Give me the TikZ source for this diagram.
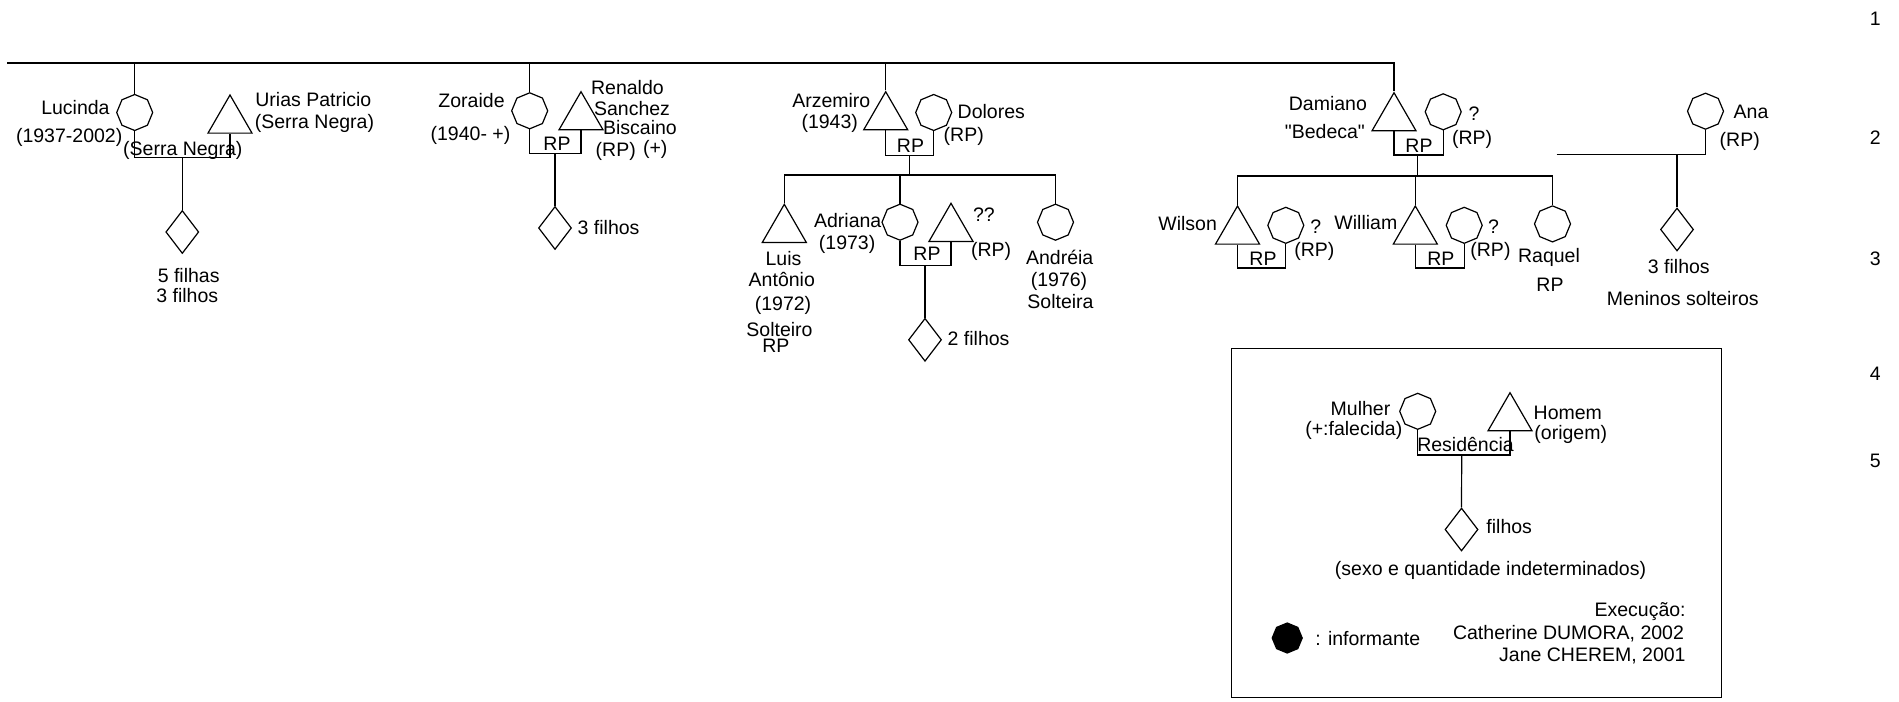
\documentclass[tikz,border=0pt]{standalone}
\usepackage{fontspec}
\setmainfont{Liberation Sans}
\newfontfamily\plainqt{Liberation Sans}[Ligatures=TeXOff]
\usetikzlibrary{shapes.geometric}

\begin{document}
\begin{tikzpicture}[
  x=0.5pt, y=-0.5pt,
  font=\fontsize{9.75}{11.7}\selectfont,
  fem/.style  = {draw, line width=0.6pt, regular polygon, regular polygon sides=8,
                 shape border rotate=22.5, minimum size=18pt, inner sep=0pt},
  masc/.style = {draw, line width=0.6pt, regular polygon, regular polygon sides=3,
                 minimum size=25.4pt, inner sep=0pt},
  kids/.style = {draw, line width=0.6pt, diamond, minimum width=16.5pt, minimum height=21.5pt,
                 inner sep=0pt},
  lbl/.style  = {inner sep=0pt, text height=6.95pt, text depth=0pt},
  ln/.style   = {draw, line width=0.6pt},
]
\useasboundingbox (0,0) rectangle (1899,701);

% --- the line of siblings -------------------------------------------------------------------------
\coordinate (tl) at (7,63);

% --- Lucinda and Urias ----------------------------------------------------------------------------
\node[fem]  (luc) at (134.7,112.5) {};
\node[masc] (uri) at (230,120.4) {};
\coordinate (lucbar) at (182.3,157.3);
\draw[ln] (luc.south) |- (lucbar) -| (uri.south);
\node[kids] (lucf) at (182.3,232) {};
\draw[ln] (lucbar) -- (lucf.north);
\node[lbl, anchor=east] (lucn) at (110,108)   {Lucinda};
\node[lbl, anchor=east] (lucy) at (122.7,135.7) {(1937-2002)};
\node[lbl] (lucr) at (182.8,149) {(Serra Negra)};
\node[lbl, anchor=west] (urin) at (255,100)   {Urias Patricio};
\node[lbl, anchor=west] (urio) at (254.5,121.7) {(Serra Negra)};
\node[lbl] (lucf1) at (188.7,275.3) {5 filhas};
\node[lbl] (lucf2) at (187.3,296)   {3 filhos};

% --- Zoraide and Renaldo --------------------------------------------------------------------------
\node[fem]  (zor) at (529.7,110.8) {};
\node[masc] (ren) at (581,117.1) {};
\coordinate (zorbar) at (555,153.7);
\draw[ln] (zor.south) |- (zorbar) -| (ren.south);
\node[kids] (zorf) at (555,228) {};
\draw[ln] (zorbar) -- (zorf.north);
\node[lbl, anchor=east] (zorn) at (505,101)     {Zoraide};
\node[lbl, anchor=east] (zory) at (510.7,133.7) {(1940- +)};
\node[lbl] (zorr) at (557,143.3) {RP};
\node[lbl, anchor=west] (ren1) at (590.7,87.7)  {Renaldo};
\node[lbl, anchor=west] (ren2) at (593.7,108.3) {Sanchez};
\node[lbl, anchor=west] (ren3) at (602.7,127.7) {Biscaino};
\node[lbl, anchor=west] (ren4) at (595.3,149.3) {(RP)};
\node[lbl, anchor=west] (ren5) at (642.7,147.3) {(+)};
\node[lbl, anchor=west] (zorf1) at (577.3,227.7) {3 filhos};

% --- Arzemiro and Dolores, and their four ---------------------------------------------------------
\node[masc] (arz) at (885.7,117.1) {};
\node[fem]  (dol) at (933.7,112.5) {};
\coordinate (arzbar) at (909.3,155.3);
\draw[ln] (arz.south) |- (arzbar) -| (dol.south);
\node[lbl, anchor=east] (arzn) at (870.7,101)   {Arzemiro};
\node[lbl, anchor=east] (arzy) at (858.3,121.7) {(1943)};
\node[lbl, anchor=west] (doln) at (957.3,111.7) {Dolores};
\node[lbl, anchor=west] (dolr) at (943.3,135)   {(RP)};
\node[lbl] (arzr) at (910.5,145.7) {RP};

\coordinate (arzsib) at (909.3,175);
\node[masc] (luis) at (784.3,229.7) {};
\node[fem]  (adr)  at (900,222.2) {};
\node[masc] (adh)  at (951,228.7) {};
\node[fem]  (and)  at (1055.5,222.2) {};
\draw[ln] (arzbar) -- (arzsib);
\draw[ln] (luis.north) |- (arzsib) -| (and.north);
\draw[ln] (adr.north) -- (adr.north |- arzsib);

\coordinate (adrbar) at (925,265.3);
\draw[ln] (adr.south) |- (adrbar) -| (adh.south);
\node[kids] (adrf) at (925,339.8) {};
\draw[ln] (adrbar) -- (adrf.north);
\node[lbl, anchor=east] (adrn) at (881.7,221)   {Adriana};
\node[lbl, anchor=east] (adry) at (875.7,242.3) {(1973)};
\node[lbl, anchor=west] (adh1) at (972.7,215)   {??};
\node[lbl, anchor=west] (adh2) at (970.7,249.3) {(RP)};
\node[lbl] (adrr) at (927,253.3) {RP};
\node[lbl, anchor=west] (adrf1) at (947.3,338.3) {2 filhos};

\node[lbl] (luis1) at (783.5,258.3) {Luis};
\node[lbl] (luis2) at (781.8,280)   {Antônio};
\node[lbl] (luis3) at (783,304)     {(1972)};
\node[lbl] (luis4) at (779.5,329.3) {Solteiro};
\node[lbl] (luis5) at (775.8,346)   {RP};
\node[lbl] (and1) at (1059.7,257.3) {Andréia};
\node[lbl] (and2) at (1059,280)     {(1976)};
\node[lbl] (and3) at (1060.5,301.7) {Solteira};

% --- Damiano and his wife, and their three --------------------------------------------------------
\node[masc] (dam)  at (1394,118.1) {};
\node[fem]  (damw) at (1443.2,111.8) {};
\coordinate (dambar) at (1417.7,155);
\draw[ln] (dam.south) |- (dambar) -| (damw.south);
\node[lbl, anchor=east] (damn) at (1367.3,104)   {Damiano};
\node[lbl, anchor=east] (damb) at (1365.3,131.7) {{\plainqt"}Bedeca{\plainqt"}};
\node[lbl, anchor=west] (damw1) at (1468.3,114)  {?};
\node[lbl, anchor=west] (damw2) at (1451.7,137.3) {(RP)};
\node[lbl] (damr) at (1419,146) {RP};

\draw[ln] (tl) -- (dam.north |- tl) -- (dam.north);
\foreach \p in {luc,zor,arz}
  \draw[ln] (\p.north |- tl) -- (\p.north);

\coordinate (damsib) at (1417.7,176);
\node[masc] (wil)  at (1237.5,231.4) {};
\node[fem]  (wilw) at (1285.8,225.3) {};
\node[masc] (wlm)  at (1415.3,231.4) {};
\node[fem]  (wlmw) at (1464.2,225.3) {};
\node[fem]  (raq)  at (1552.5,223.9) {};
\draw[ln] (dambar) -- (damsib);
\draw[ln] (wil.north) |- (damsib) -| (raq.north);
\draw[ln] (wlm.north) -- (wlm.north |- damsib);

\coordinate (wilbar) at (1263,268);
\draw[ln] (wil.south) |- (wilbar) -| (wilw.south);
\coordinate (wlmbar) at (1440.8,268);
\draw[ln] (wlm.south) |- (wlmbar) -| (wlmw.south);
\node[lbl, anchor=east] (wiln)  at (1217.3,223.3) {Wilson};
\node[lbl, anchor=west] (wilw1) at (1310,226.7)   {?};
\node[lbl, anchor=west] (wilw2) at (1294,249.3)   {(RP)};
\node[lbl] (wilr) at (1263,258.3) {RP};
\node[lbl, anchor=east] (wlmn)  at (1397.7,222.3) {William};
\node[lbl, anchor=west] (wlmw1) at (1487.7,226.7) {?};
\node[lbl, anchor=west] (wlmw2) at (1470,249.3)   {(RP)};
\node[lbl] (wlmr) at (1440.8,258.3) {RP};
\node[lbl] (raqn) at (1549,256) {Raquel};
\node[lbl] (raqr) at (1550,284.3) {RP};

% --- Ana ------------------------------------------------------------------------------------------
\node[fem] (ana) at (1705.5,111.2) {};
\coordinate (anaend) at (1556.7,154.3);
\coordinate (anabar) at (1677,154.3);
\draw[ln] (anaend) -- (anaend -| ana.south) -- (ana.south);
\node[kids] (anaf) at (1677,229.5) {};
\draw[ln] (anabar) -- (anaf.north);
\node[lbl, anchor=west] (anan) at (1733.3,111.7) {Ana};
\node[lbl, anchor=west] (anar) at (1719.3,140)   {(RP)};
\node[lbl] (anaf1) at (1678.8,266.7) {3 filhos};
\node[lbl] (anaf2) at (1682.8,298.3) {Meninos solteiros};

% --- legend ---------------------------------------------------------------------------------------
\coordinate (lega) at (1231.7,348.3);
\coordinate (legb) at (1721.7,697.3);
\draw[ln] (lega) rectangle (legb);
\node[fem]  (mul) at (1417.7,411.3) {};
\node[masc] (hom) at (1510,418.1) {};
\coordinate (legbar) at (1461.7,455);
\draw[ln] (mul.south) |- (legbar) -| (hom.south);
\node[kids] (legf) at (1461.5,529.5) {};
\draw[ln] (legbar) -- (legf.north);
\node[lbl, anchor=east] (mul1) at (1390.7,408.3) {Mulher};
\node[lbl, anchor=east] (mul2) at (1402.7,428.3) {(+:falecida)};
\node[lbl, anchor=west] (hom1) at (1533.3,412.7) {Homem};
\node[lbl, anchor=west] (hom2) at (1534,432.3)   {(origem)};
\node[lbl] (legr) at (1465.5,445) {Residência};
\node[lbl, anchor=west] (legf1) at (1486,526.7) {filhos};
\node[lbl] (legf2) at (1490.5,568.3) {(sexo e quantidade indeterminados)};
\node[lbl, anchor=east] (exe1) at (1686,610)     {Execução:};
\node[lbl, anchor=east] (exe2) at (1684.3,632.7) {Catherine DUMORA, 2002};
\node[lbl, anchor=east] (exe3) at (1686,654.3)   {Jane CHEREM, 2001};
\node[fem, fill=black, minimum size=15pt] (inf) at (1287.2,638) {};
\node[lbl, anchor=west] (infn) at (1315,638.3) {: informante};

% --- generation numbers ---------------------------------------------------------------------------
\node[lbl, anchor=east] (g1) at (1881,19)    {1};
\node[lbl, anchor=east] (g2) at (1881,137.3) {2};
\node[lbl, anchor=east] (g3) at (1881,259)   {3};
\node[lbl, anchor=east] (g4) at (1881,373.3) {4};
\node[lbl, anchor=east] (g5) at (1881,461)   {5};

\end{tikzpicture}
\end{document}
